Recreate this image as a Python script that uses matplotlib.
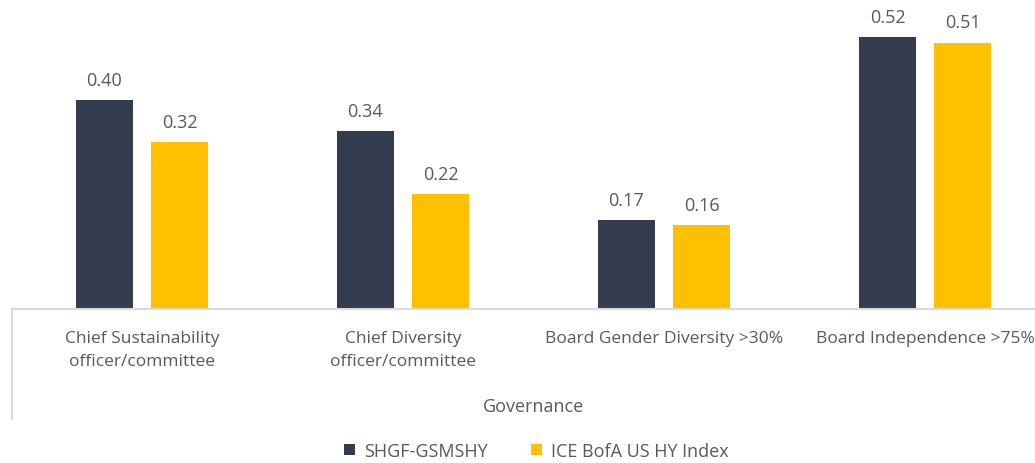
import numpy as np
import matplotlib
matplotlib.use("Agg")
import matplotlib.pyplot as plt

# Data
categories = ["Chief Sustainability\nofficer/committee",
              "Chief Diversity\nofficer/committee",
              "Board Gender Diversity >30%",
              "Board Independence >75%"]
group_label = "Governance"
series_names = ["SHGF-GSMSHY", "ICE BofA US HY Index"]
shgf = [0.40, 0.34, 0.17, 0.52]
ice = [0.32, 0.22, 0.16, 0.51]

colors = ["#323C4E", "#FFC000"]
text_color = "#595959"
line_color = "#D9D9D9"

plt.rcParams['font.family'] = ['Open Sans', 'DejaVu Sans']
fs = 13

W, H = 1035, 464
fig = plt.figure(figsize=(W / 100, H / 100), dpi=100)

# axes spans a bit past the right edge, like the cropped original
left_px, right_px, base_px = 11.5, 1055.5, 310
ax = fig.add_axes([left_px / W, (H - base_px) / H, (right_px - left_px) / W, base_px / H])

x = np.arange(len(categories))
bw = 0.222
off = 0.1437
b1 = ax.bar(x - off, shgf, bw, color=colors[0], label=series_names[0])
b2 = ax.bar(x + off, ice, bw, color=colors[1], label=series_names[1])

for bars in (b1, b2):
    for r in bars:
        ax.annotate(f"{r.get_height():.2f}", (r.get_x() + r.get_width() / 2, r.get_height()),
                    xytext=(0, 8), textcoords="offset points", ha="center", va="bottom",
                    fontsize=fs, color=text_color)

ax.set_xlim(-0.5, len(categories) - 0.5)
ax.set_ylim(0, base_px / 522.5)
ax.set_yticks([])
ax.set_xticks([])
for s in ["top", "right", "left"]:
    ax.spines[s].set_visible(False)
ax.spines["bottom"].set_color(line_color)
ax.spines["bottom"].set_linewidth(1.5)

# category labels
for i, c in enumerate(categories):
    ax.text(i, -0.041, c, ha="center", va="top", fontsize=12.5, color=text_color,
            linespacing=1.55, clip_on=False)

# group label and outer separator
ax.text(1.5, -0.186, group_label, ha="center", va="center", fontsize=fs, color=text_color, clip_on=False)
ax.plot([-0.5, -0.5], [0, -110 / 522.5], color=line_color, lw=1.5, clip_on=False)

fig.legend(handles=[b1, b2], labels=series_names, loc="center", bbox_to_anchor=(0.518, (H - 452) / H),
           ncol=2, frameon=False, fontsize=fs, labelcolor=text_color, handlelength=0.6,
           handleheight=0.6, handletextpad=0.5, columnspacing=2.4)

fig.savefig("out.png", dpi=100)
